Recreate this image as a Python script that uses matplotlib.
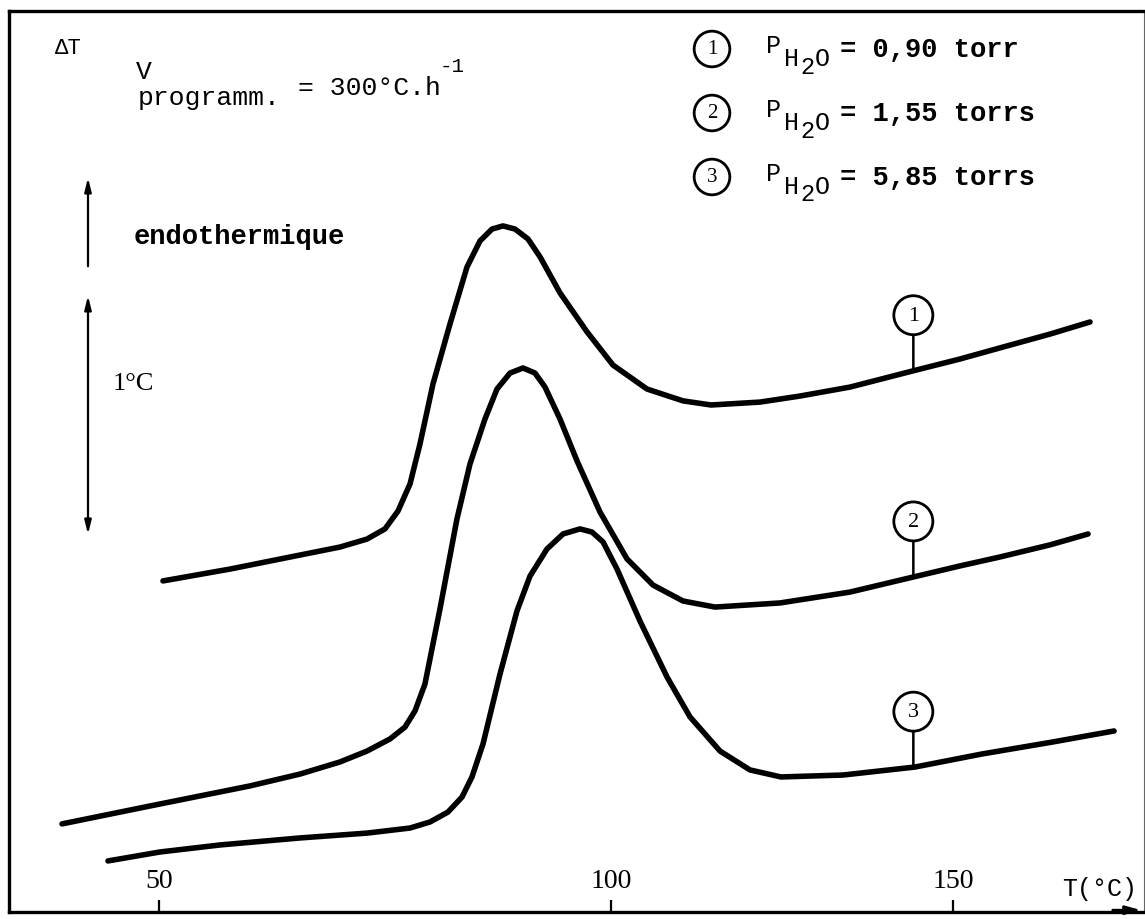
import numpy as np
import matplotlib.pyplot as plt

# thermogramme ATD : T (°C) et ΔT (°C, origine arbitraire)
t1 = [50.44, 57.85, 65.60, 70.02, 73.01, 75.00, 76.44, 77.77, 78.87, 80.31, 82.19, 84.07,
      85.51, 86.84, 88.05, 89.38, 90.82, 92.15, 94.36, 97.35, 100.29, 105.26, 110.53,
      114.62, 121.78, 127.63, 134.94, 144.15, 151.02, 156.87, 164.18, 170.03]
dt1 = [1.368, 1.417, 1.475, 1.508, 1.541, 1.583, 1.657, 1.769, 1.934, 2.182, 2.430, 2.665,
       2.773, 2.822, 2.835, 2.822, 2.781, 2.707, 2.558, 2.397, 2.260, 2.161, 2.112,
       2.095, 2.107, 2.132, 2.169, 2.236, 2.285, 2.331, 2.388, 2.438]

t2 = [39.27, 49.00, 60.07, 65.60, 70.02, 73.01, 75.55, 77.21, 78.32, 79.42, 81.08, 82.96,
      84.40, 86.06, 87.39, 88.83, 90.27, 91.59, 92.70, 94.36, 96.24, 98.78, 102.34,
      106.14, 110.53, 115.20, 124.71, 134.94, 144.15, 151.02, 156.87, 164.18, 169.74]
dt2 = [0.364, 0.438, 0.521, 0.570, 0.620, 0.665, 0.715, 0.764, 0.831, 0.942, 1.252, 1.624,
       1.851, 2.037, 2.161, 2.227, 2.248, 2.227, 2.169, 2.037, 1.864, 1.653, 1.459,
       1.351, 1.285, 1.260, 1.277, 1.322, 1.384, 1.430, 1.467, 1.517, 1.562]

t3 = [44.36, 50.11, 56.75, 65.60, 73.01, 77.77, 79.98, 81.97, 83.52, 84.62, 85.84, 87.72,
      89.60, 91.04, 92.92, 94.69, 96.57, 97.90, 99.12, 100.88, 104.24, 108.19, 111.55,
      115.94, 120.32, 124.85, 133.92, 144.44, 154.24, 164.47, 173.54]
dt3 = [0.211, 0.248, 0.277, 0.306, 0.326, 0.347, 0.372, 0.413, 0.475, 0.558, 0.694, 0.983,
       1.244, 1.388, 1.500, 1.562, 1.583, 1.570, 1.529, 1.417, 1.202, 0.971, 0.806,
       0.665, 0.587, 0.558, 0.566, 0.599, 0.653, 0.702, 0.748]

curves = [(t1, dt1, '1'), (t2, dt2, '2'), (t3, dt3, '3')]
pressions = ['0,90 torr', '1,55 torrs', '5,85 torrs']
t_repere = 144.2

# echelle des T non lineaire sur l'original
tick_t = [50, 100, 150]
tick_pos = [0.0, 452.0, 794.0]


def t_to_pos(t):
    t = np.asarray(t, dtype=float)
    return np.where(t < 100, (t - 50) * (tick_pos[1] - tick_pos[0]) / 50,
                    tick_pos[1] + (t - 100) * (tick_pos[2] - tick_pos[1]) / 50)


def pos_to_t(x):
    x = np.asarray(x, dtype=float)
    return np.where(x < tick_pos[1], 50 + x * 50 / (tick_pos[1] - tick_pos[0]),
                    100 + (x - tick_pos[1]) * 50 / (tick_pos[2] - tick_pos[1]))


W, H = 1145, 920
mono = 'Liberation Mono'
serif = 'Liberation Serif'


def fp(x, y):
    return x / W, 1 - y / H


fig = plt.figure(figsize=(W / 100, H / 100), dpi=100)
ax = fig.add_axes([9 / W, 7 / H, 1135 / W, 901 / H])
ax.set_xscale('function', functions=(t_to_pos, pos_to_t))

for t, dt, num in curves:
    ax.plot(t, dt, color='black', lw=4, solid_capstyle='round', solid_joinstyle='round')
    yl = np.interp(t_repere, t, dt)
    ax.annotate(num, xy=(t_repere, yl), xytext=(0, 40), textcoords='offset points',
                ha='center', va='center', fontsize=16, family=serif,
                bbox=dict(boxstyle='circle,pad=0.45', fc='white', ec='black', lw=2),
                arrowprops=dict(arrowstyle='-', lw=1.8, color='black', shrinkA=0, shrinkB=0))

ax.set_xlim(33.41, 177.92)
ax.set_ylim(0, 3.723)
ax.set_yticks([])
ax.set_xticks(tick_t)
ax.set_xticklabels([str(v) for v in tick_t])
ax.tick_params(axis='x', direction='in', length=9, width=1.6, pad=-32, labelsize=20)
for lab in ax.get_xticklabels():
    lab.set_fontfamily(serif)

for side in ['left', 'top', 'bottom']:
    ax.spines[side].set_linewidth(2.4)
ax.spines['right'].set_linewidth(0.8)
ax.spines['right'].set_color('0.4')

# fleche de l'axe des T
ax.annotate('', xy=(1.0, 0.002), xytext=(0.97, 0.002), xycoords='axes fraction',
            arrowprops=dict(arrowstyle='-|>,head_length=0.9,head_width=0.25', lw=2, color='black'))
fig.text(*fp(1062, 889), 'T(°C)', family=mono, fontsize=18, va='center')

# annotations a gauche
fig.text(*fp(55, 48), 'ΔT', family=mono, fontsize=16, va='center')
fig.text(*fp(136, 72), 'V', family=mono, fontsize=19, va='center')
fig.text(*fp(138, 98), 'programm.', family=mono, fontsize=19, va='center')
fig.text(*fp(298, 88), '= 300°C.h', family=mono, fontsize=19, va='center')
fig.text(*fp(440, 66), '-1', family=mono, fontsize=15, va='center')

ax.annotate('', xy=fp(88, 176), xytext=fp(88, 270), xycoords='figure fraction',
            arrowprops=dict(arrowstyle='-|>,head_length=0.8,head_width=0.2', lw=1.6, color='black'))
fig.text(*fp(134, 237), 'endothermique', family=mono, fontsize=19.5, fontweight='bold', va='center')

ax.annotate('', xy=fp(88, 294), xytext=fp(88, 538), xycoords='figure fraction',
            arrowprops=dict(arrowstyle='<|-|>,head_length=0.8,head_width=0.2', lw=1.6, color='black'))
fig.text(*fp(113, 384), '1°C', family=serif, fontsize=19, va='center')

# legende
for i, (num, p) in enumerate(zip(['1', '2', '3'], pressions)):
    yc = 50 + 64 * i
    fig.text(*fp(712, yc), num, family=serif, fontsize=15, ha='center', va='center',
             bbox=dict(boxstyle='circle,pad=0.4', fc='white', ec='black', lw=2))
    fig.text(*fp(766, yc - 4), 'P', family=mono, fontsize=18, va='center')
    fig.text(*fp(784, yc + 9), 'H', family=mono, fontsize=18, va='center')
    fig.text(*fp(800, yc + 17), '2', family=mono, fontsize=17, va='center')
    fig.text(*fp(815, yc + 9), 'O', family=mono, fontsize=18, va='center')
    fig.text(*fp(840, yc), '= ' + p, family=mono, fontsize=19.5, fontweight='bold', va='center')

fig.savefig('out.png', dpi=100)
